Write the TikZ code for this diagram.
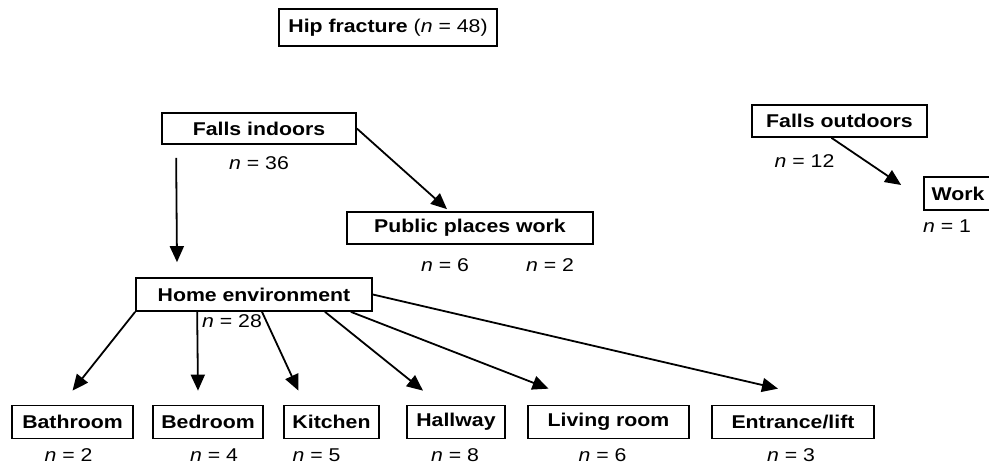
\documentclass[tikz,border=0pt]{standalone}
\usepackage{fontspec}
\setmainfont{Liberation Sans}[FakeStretch=1.15]
\usetikzlibrary{positioning,arrows.meta}

\begin{document}
\begin{tikzpicture}[
  x=1pt, y=-1pt,
  font=\fontsize{18.5}{21}\selectfont,
  box/.style={draw, line width=1.7pt, minimum height=32pt, inner sep=0pt,
              font=\fontsize{18.5}{21}\selectfont\bfseries},
  cnt/.style={inner sep=0pt},
  arr/.style={-{Triangle[length=16pt,width=14pt]}, line width=1.8pt}
]
\useasboundingbox (0,0) rectangle (989,467);

% top levels
\node[box, minimum width=218pt, minimum height=37pt] (hip) at (388,27.5)
  {Hip fracture \mdseries(\textit{n} = 48)};
\node[box, minimum width=194pt, minimum height=31pt] (fin)  at (259,128.5) {Falls indoors};
\node[box, minimum width=246pt] (pub)  at (470,228)   {Public places work};
\node[box, minimum width=175pt] (fout) at (839.5,121) {Falls outdoors};
\node[box, minimum width=68pt, minimum height=33pt]  (work) at (958,193.5) {Work};
\node[box, minimum width=236pt, minimum height=33pt] (home) at (254,294.5) {Home environment};

% rooms
\node[box, minimum width=121pt, minimum height=33pt] (bath)  at (72.5,422)  {Bathroom};
\node[box, minimum width=110pt, minimum height=33pt] (bed)   at (208,422)   {Bedroom};
\node[box, minimum width=95pt,  minimum height=33pt] (kit)   at (331.5,422) {Kitchen};
\node[box, minimum width=98pt,  minimum height=33pt] (hall)  at (456,422)   {Hallway};
\node[box, minimum width=161pt, minimum height=33pt] (liv)   at (608.5,422) {Living room};
\node[box, minimum width=162pt, minimum height=33pt] (ent)   at (793,422)   {Entrance/lift};

% counts
\node[cnt, below=12pt of fin]               (nfin)  {\textit{n} = 36};
\node[cnt, below=17pt of fout, xshift=-35pt] (nfout) {\textit{n} = 12};
\node[cnt, below=9pt of work, xshift=-11pt] (nwork) {\textit{n} = 1};
\node[cnt, below=14pt of pub, xshift=-25pt] (npub1) {\textit{n} = 6};
\node[cnt, below=14pt of pub, xshift=80pt]  (npub2) {\textit{n} = 2};
\node[cnt, below=3pt of home, xshift=-22pt] (nhome) {\textit{n} = 28};
\node[cnt, below=9pt of bath, xshift=-4pt]  (nbath) {\textit{n} = 2};
\node[cnt, below=9pt of bed, xshift=6pt]    (nbed)  {\textit{n} = 4};
\node[cnt, below=9pt of kit, xshift=-15pt]  (nkit)  {\textit{n} = 5};
\node[cnt, below=9pt of hall, xshift=-1pt]  (nhall) {\textit{n} = 8};
\node[cnt, below=9pt of liv, xshift=-6pt]   (nliv)  {\textit{n} = 6};
\node[cnt, below=9pt of ent, xshift=-2pt]   (nent)  {\textit{n} = 3};

% arrows
\draw[arr] ([xshift=15pt,yshift=-13pt]fin.south west) -- ([xshift=-77pt,yshift=15pt]home.north);
\draw[arr] (fin.east) -- ([xshift=-23pt,yshift=2pt]pub.north);
\draw[arr] ([xshift=-8pt]fout.south) -- ([xshift=-22pt,yshift=8.5pt]work.west);

\draw[arr] (home.south west) -- ([yshift=14pt]bath.north);
\draw[arr] ([xshift=62pt]home.south west) -- ([xshift=-10pt,yshift=14pt]bed.north);
\draw[arr] ([xshift=8pt]home.south) -- ([xshift=-33pt,yshift=14pt]kit.north);
\draw[arr] ([xshift=71pt]home.south) -- ([xshift=-33pt,yshift=14pt]hall.north);
\draw[arr] ([xshift=-22pt]home.south east) -- ([xshift=-60pt,yshift=16pt]liv.north);
\draw[arr] (home.east) -- ([xshift=-15pt,yshift=16pt]ent.north);
\end{tikzpicture}
\end{document}
